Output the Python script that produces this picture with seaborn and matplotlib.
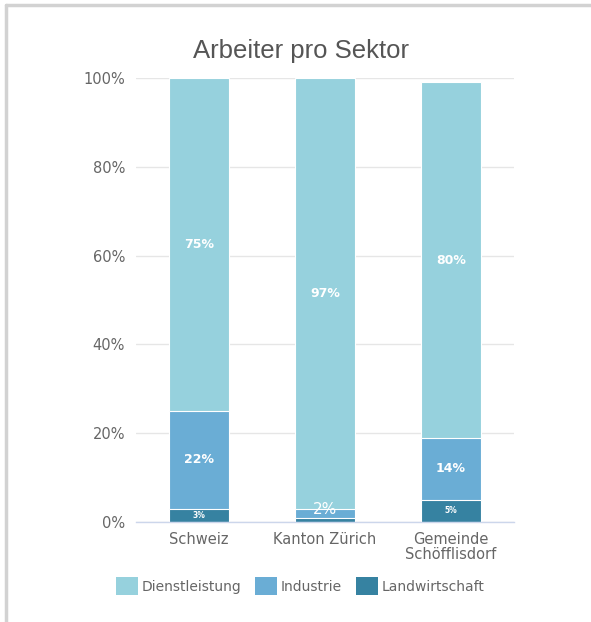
import matplotlib
matplotlib.use("Agg")
import matplotlib.pyplot as plt
import seaborn as sns
import pandas as pd
import numpy as np
from matplotlib.patches import Patch
from matplotlib.lines import Line2D
from matplotlib.ticker import FixedLocator

# ---- data ----
categories = ["Schweiz", "Kanton Zürich", "Gemeinde\nSchöfflisdorf"]
landwirtschaft = [3, 1, 5]
industrie = [22, 2, 14]
dienstleistung = [75, 97, 80]
series_names = ["Dienstleistung", "Industrie", "Landwirtschaft"]
title = "Arbeiter pro Sektor"
ytick_values = [0, 20, 40, 60, 80, 100]
ytick_labels = ["0%", "20%", "40%", "60%", "80%", "100%"]

colors = {"Dienstleistung": "#96d1dd", "Industrie": "#6aadd5", "Landwirtschaft": "#3682a1"}

sns.set_theme(style="white")
plt.rcParams["font.family"] = ["DejaVu Sans"]

fig = plt.figure(figsize=(5.91, 6.22), dpi=100)
ax = fig.add_axes([136/591, 1-522/622, (514-136)/591, (522-78)/622])

land = np.array(landwirtschaft)
ind = np.array(industrie)
dien = np.array(dienstleistung)
tops = {
    "Dienstleistung": land + ind + dien,
    "Industrie": land + ind,
    "Landwirtschaft": land,
}
for name in series_names:
    df = pd.DataFrame({"cat": categories, "val": tops[name]})
    sns.barplot(data=df, x="cat", y="val", color=colors[name], width=0.476,
                edgecolor="white", linewidth=0.8, saturation=1, ax=ax, zorder=3)

# labels
for i in range(len(categories)):
    segs = [(land[i], 0, "Landwirtschaft"), (ind[i], land[i], "Industrie"),
            (dien[i], land[i] + ind[i], "Dienstleistung")]
    for v, b, name in segs:
        if v < 2:
            continue
        y = b + v / 2
        if v <= 2:
            ax.text(i, y + 0.9, f"{v}%", ha="center", va="center", color="white",
                    fontsize=11, zorder=5)
        elif v <= 5:
            ax.text(i, y, f"{v}%", ha="center", va="center", color="white",
                    fontsize=5.5, fontweight="bold", zorder=5)
        else:
            ax.text(i, y, f"{v}%", ha="center", va="center", color="white",
                    fontsize=9, fontweight="bold", zorder=5)

ax.set_xlim(-0.5, 2.5)
ax.set_ylim(0, 100)
ax.set_yticks(ytick_values)
ax.set_yticklabels(ytick_labels)
ax.set_xlabel("")
ax.set_ylabel("")
ax.grid(axis="y", color="#e6e6e6", linewidth=1, zorder=0)
ax.set_axisbelow(True)
for s in ["top", "right", "left"]:
    ax.spines[s].set_visible(False)
ax.spines["bottom"].set_color("#ccd6eb")
ax.spines["bottom"].set_linewidth(1)
ax.spines["bottom"].set_zorder(4)

ax.tick_params(axis="y", length=0, pad=8, labelsize=10.5, labelcolor="#666666")
ax.tick_params(axis="x", which="major", length=0, pad=7, labelsize=10.5, labelcolor="#666666")
ax.xaxis.set_minor_locator(FixedLocator([-0.5, 0.5, 1.5, 2.5]))
ax.tick_params(axis="x", which="minor", length=6, width=1, color="#ccd6eb", direction="out")
for lab in ax.get_xticklabels():
    lab.set_linespacing(1.0)

fig.text(0.51, 1 - 51/622, title, ha="center", va="center", fontsize=18.5,
         color="#555555", family="Liberation Sans")

handles = [Patch(facecolor=colors[n], edgecolor="none") for n in series_names]
leg = fig.legend(handles, series_names, loc="center", bbox_to_anchor=(0.508, 1 - 586/622),
                 ncol=3, frameon=False, fontsize=10, handlelength=1.58, handleheight=1.58,
                 handletextpad=0.25, columnspacing=1.0, labelcolor="#666666")

# outer frame (left and top)
fig.add_artist(Line2D([6/591, 6/591], [0, 1 - 5/622], color="#d2d2d2", linewidth=2.5,
                      transform=fig.transFigure))
fig.add_artist(Line2D([6/591, 1], [1 - 5/622, 1 - 5/622], color="#d2d2d2", linewidth=2.5,
                      transform=fig.transFigure))

fig.savefig("out.png", dpi=100)
